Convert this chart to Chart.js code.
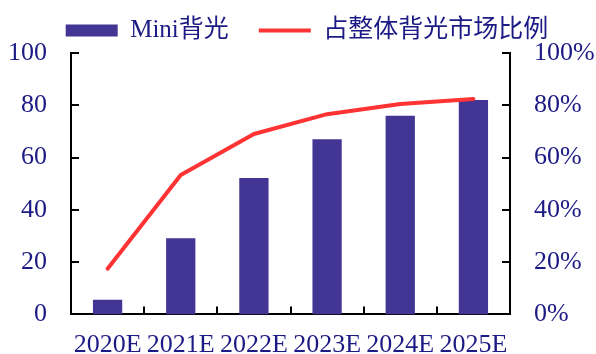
<!DOCTYPE html>
<html>
<head>
<meta charset="utf-8">
<script src="https://cdn.jsdelivr.net/npm/chart.js@4"></script>
<style>
  html, body { margin: 0; padding: 0; background: #fff; }
  #wrap { width: 596px; height: 354px; }
</style>
</head>
<body>
<div id="wrap"><canvas id="miniChart" width="596" height="354"></canvas></div>
<script>
// Mini backlight shipments and share of the whole backlight market
var years = ['2020E', '2021E', '2022E', '2023E', '2024E', '2025E'];
var miniValues = [5.6, 29.1, 52.2, 67, 76, 82];
var sharePct = [17.5, 53.3, 69, 76.6, 80.5, 82.4];
var leftTicks = [0, 20, 40, 60, 80, 100];
var rightTicks = [0, 20, 40, 60, 80, 100];

var textColor = '#1c1a84';
var barColor = '#423594';
var lineColor = '#ff3333';
var serif = '"Liberation Serif", "Times New Roman", "Noto Sans CJK SC", serif';

// short tick marks pointing into the plot area
var innerTicks = {
  id: 'innerTicks',
  afterDraw: function(chart) {
    var c = chart.ctx, area = chart.chartArea, len = 8;
    c.save();
    c.strokeStyle = '#000';
    c.lineWidth = 2;
    c.beginPath();
    ['y', 'y1'].forEach(function(id) {
      var s = chart.scales[id];
      var left = s.position === 'left';
      var x0 = left ? area.left : area.right;
      s.ticks.forEach(function(t) {
        var py = Math.round(s.getPixelForValue(t.value));
        c.moveTo(x0, py);
        c.lineTo(left ? x0 + len : x0 - len, py);
      });
    });
    var xs = chart.scales.x;
    for (var i = 1; i < xs.ticks.length; i++) {
      var px = Math.round((xs.getPixelForTick(i - 1) + xs.getPixelForTick(i)) / 2);
      c.moveTo(px, area.bottom);
      c.lineTo(px, area.bottom - len);
    }
    c.stroke();
    c.restore();
  }
};

document.addEventListener("DOMContentLoaded", function() {
  var ctx = document.getElementById('miniChart').getContext('2d');
  new Chart(ctx, {
    type: 'bar',
    data: {
      labels: years,
      datasets: [{
        label: 'Mini背光',
        data: miniValues,
        backgroundColor: barColor,
        borderWidth: 0,
        barPercentage: 0.4,
        categoryPercentage: 1,
        pointStyle: 'rect',
        yAxisID: 'y',
        order: 2
      }, {
        type: 'line',
        label: '占整体背光市场比例',
        data: sharePct,
        borderColor: lineColor,
        backgroundColor: lineColor,
        borderWidth: 4,
        borderCapStyle: 'round',
        borderJoinStyle: 'round',
        pointRadius: 0,
        pointStyle: 'line',
        tension: 0,
        yAxisID: 'y1',
        order: 1
      }]
    },
    plugins: [innerTicks],
    options: {
      responsive: false,
      animation: false,
      layout: { padding: { top: -12, left: 9, right: -9, bottom: -8 } },
      plugins: {
        tooltip: { enabled: false },
        legend: {
          position: 'top',
          align: 'center',
          labels: {
            usePointStyle: true,
            pointStyleWidth: 52,
            boxHeight: 12,
            padding: 30,
            color: textColor,
            font: { family: serif, size: 25 },
            sort: function(a, b) { return a.datasetIndex - b.datasetIndex; }
          }
        }
      },
      scales: {
        x: {
          ticks: { color: textColor, font: { family: serif, size: 26 }, padding: 15, maxRotation: 0, autoSkip: false },
          grid: { display: false, drawTicks: false },
          border: { color: '#000', width: 2 },
          afterFit: function(s) { s.height = 40; }
        },
        y: {
          position: 'left',
          min: 0, max: 100,
          afterBuildTicks: function(s) { s.ticks = leftTicks.map(function(v) { return { value: v }; }); },
          ticks: { color: textColor, font: { family: serif, size: 26 }, padding: 24 },
          grid: { display: false, drawTicks: false },
          border: { color: '#000', width: 2 },
          afterFit: function(s) { s.width = 62; }
        },
        y1: {
          position: 'right',
          min: 0, max: 100,
          afterBuildTicks: function(s) { s.ticks = rightTicks.map(function(v) { return { value: v }; }); },
          ticks: {
            color: textColor, font: { family: serif, size: 26 }, padding: 24,
            callback: function(v) { return v + '%'; }
          },
          grid: { display: false, drawTicks: false },
          border: { color: '#000', width: 2 },
          afterFit: function(s) { s.width = 95; }
        }
      }
    }
  });
});
</script>
</body>
</html>
